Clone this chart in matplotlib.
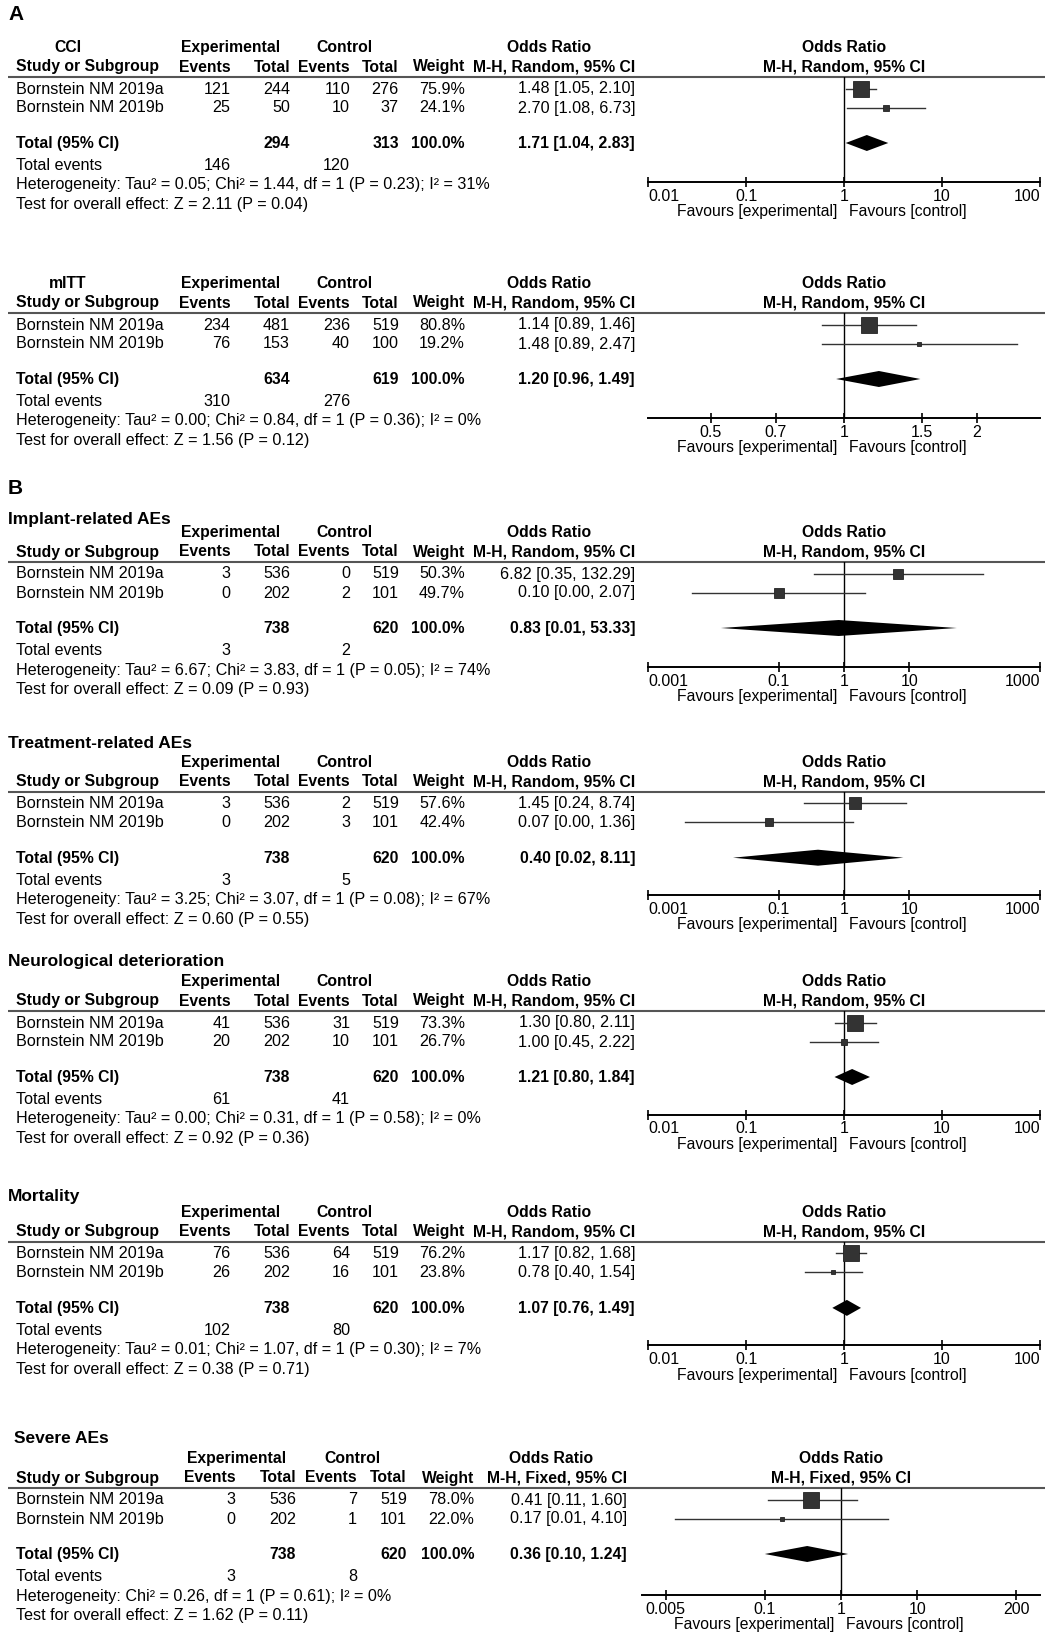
"""Forest plots: efficacy (A) and safety (B) outcomes, Bornstein NM 2019a/b."""
import matplotlib
matplotlib.use("Agg")
import matplotlib.pyplot as plt
from matplotlib.ticker import NullLocator

plt.rcParams.update({"font.family": "Liberation Sans", "font.size": 11})

# ---- data ----
studies = ["Bornstein NM 2019a", "Bornstein NM 2019b"]
outcomes = ["CCI", "mITT", "Implant-related AEs", "Treatment-related AEs",
            "Neurological deterioration", "Mortality", "Severe AEs"]
method = ["Random", "Random", "Random", "Random", "Random", "Random", "Fixed"]
exp_events = [[121, 25], [234, 76], [3, 0], [3, 0], [41, 20], [76, 26], [3, 0]]
exp_total = [[244, 50], [481, 153], [536, 202], [536, 202], [536, 202], [536, 202], [536, 202]]
ctl_events = [[110, 10], [236, 40], [0, 2], [2, 3], [31, 10], [64, 16], [7, 1]]
ctl_total = [[276, 37], [519, 100], [519, 101], [519, 101], [519, 101], [519, 101], [519, 101]]
weights = [[75.9, 24.1], [80.8, 19.2], [50.3, 49.7], [57.6, 42.4], [73.3, 26.7], [76.2, 23.8], [78.0, 22.0]]
or_est = [[1.48, 2.70], [1.14, 1.48], [6.82, 0.10], [1.45, 0.07], [1.30, 1.00], [1.17, 0.78], [0.41, 0.17]]
or_lo = [[1.05, 1.08], [0.89, 0.89], [0.35, 0.0047], [0.24, 0.0037], [0.80, 0.45], [0.82, 0.40], [0.11, 0.0067]]
or_hi = [[2.10, 6.73], [1.46, 2.47], [132.29, 2.07], [8.74, 1.36], [2.11, 2.22], [1.68, 1.54], [1.60, 4.10]]
pooled = [1.71, 1.20, 0.83, 0.40, 1.21, 1.07, 0.36]
pooled_lo = [1.04, 0.96, 0.013, 0.02, 0.80, 0.76, 0.10]
pooled_hi = [2.83, 1.49, 53.33, 8.11, 1.84, 1.49, 1.24]
heterogeneity = [
    "Heterogeneity: Tau² = 0.05; Chi² = 1.44, df = 1 (P = 0.23); I² = 31%",
    "Heterogeneity: Tau² = 0.00; Chi² = 0.84, df = 1 (P = 0.36); I² = 0%",
    "Heterogeneity: Tau² = 6.67; Chi² = 3.83, df = 1 (P = 0.05); I² = 74%",
    "Heterogeneity: Tau² = 3.25; Chi² = 3.07, df = 1 (P = 0.08); I² = 67%",
    "Heterogeneity: Tau² = 0.00; Chi² = 0.31, df = 1 (P = 0.58); I² = 0%",
    "Heterogeneity: Tau² = 0.01; Chi² = 1.07, df = 1 (P = 0.30); I² = 7%",
    "Heterogeneity: Chi² = 0.26, df = 1 (P = 0.61); I² = 0%",
]
overall = ["Z = 2.11 (P = 0.04)", "Z = 1.56 (P = 0.12)", "Z = 0.09 (P = 0.93)",
           "Z = 0.60 (P = 0.55)", "Z = 0.92 (P = 0.36)", "Z = 0.38 (P = 0.71)",
           "Z = 1.62 (P = 0.11)"]
xticks = [[0.01, 0.1, 1, 10, 100], [0.5, 0.7, 1, 1.5, 2], [0.001, 0.1, 1, 10, 1000],
          [0.001, 0.1, 1, 10, 1000], [0.01, 0.1, 1, 10, 100], [0.01, 0.1, 1, 10, 100],
          [0.005, 0.1, 1, 10, 200]]
xticklabels = [["0.01", "0.1", "1", "10", "100"], ["0.5", "0.7", "1", "1.5", "2"],
               ["0.001", "0.1", "1", "10", "1000"], ["0.001", "0.1", "1", "10", "1000"],
               ["0.01", "0.1", "1", "10", "100"], ["0.01", "0.1", "1", "10", "100"],
               ["0.005", "0.1", "1", "10", "200"]]
xlims = [(0.01, 100), (0.36, 2.78), (0.001, 1000), (0.001, 1000), (0.01, 100),
         (0.01, 100), (0.00245, 408)]

# ---- layout (pixels) ----
W, H = 1057, 1637
line_y = [77, 313, 562, 791.7, 1011, 1241.9, 1488]
title_dy = [-30, -30, -43, -49, -50, -46, -50]
axis_dy = [105, 105, 105, 103, 103.5, 103.4, 107]
COL_STD = dict(ev_e=230.6, tot_e=290, ev_c=350, tot_c=399, w=465, ci=635, exp=230.6, ctl=344, orc=549)
COL_SEV = dict(ev_e=235.5, tot_e=296, ev_c=357, tot_c=407, w=474, ci=627, exp=236.5, ctl=352, orc=551.5)
SQ, CI_C = "#333333", "#333333"
FS = 11.6      # regular table text
FS_B = 11.3    # bold headers

fig = plt.figure(figsize=(W / 100, H / 100), dpi=100)
bg = fig.add_axes([0, 0, 1, 1])
bg.set_xlim(0, W); bg.set_ylim(H, 0); bg.axis("off")


def txt(x, y, s, ha="left", bold=False, size=None):
    if size is None:
        size = FS_B if bold else FS
    bg.text(x, y + 5, s, ha=ha, va="baseline", fontsize=size,
            fontweight="bold" if bold else "normal", color="black")


bg.text(8, 20, "A", fontsize=15, fontweight="bold", va="baseline")
bg.text(8, 494, "B", fontsize=15, fontweight="bold", va="baseline")

for i, name in enumerate(outcomes):
    L = line_y[i]
    sev = i == 6
    c = COL_SEV if sev else COL_STD
    fx0, fx1 = (642, 1040) if sev else (648, 1040)
    fxc = (fx0 + fx1) / 2
    ci_head = f"M-H, {method[i]}, 95% CI"

    # titles / headers
    if i < 2:
        txt(67.7, L + title_dy[i], name, ha="center", bold=True)
    else:
        txt(13.6 if sev else 8, L + title_dy[i], name, bold=True, size=12.5)
    for x, s in [(c["exp"], "Experimental"), (c["ctl"], "Control"), (c["orc"], "Odds Ratio"), (fxc, "Odds Ratio")]:
        txt(x, L - 30, s, ha="center", bold=True)
    txt(16.3, L - 10.5, "Study or Subgroup", bold=True)
    for k, s in [("ev_e", "Events"), ("tot_e", "Total"), ("ev_c", "Events"), ("tot_c", "Total"),
                 ("w", "Weight"), ("ci", ci_head)]:
        txt(c[k], L - 10.5, s, ha="right", bold=True)
    txt(fxc, L - 10.5, ci_head, ha="center", bold=True)
    bg.plot([8, 1045], [L, L], color="#555555", lw=1.5, solid_capstyle="butt")

    # study rows
    for j, st in enumerate(studies):
        y = L + [11.5, 30.5][j]
        txt(16.3, y, st)
        txt(c["ev_e"], y, str(exp_events[i][j]), ha="right")
        txt(c["tot_e"], y, str(exp_total[i][j]), ha="right")
        txt(c["ev_c"], y, str(ctl_events[i][j]), ha="right")
        txt(c["tot_c"], y, str(ctl_total[i][j]), ha="right")
        txt(c["w"], y, f"{weights[i][j]:.1f}%", ha="right")
        txt(c["ci"], y, f"{or_est[i][j]:.2f} [{or_lo[i][j]:.2f}, {or_hi[i][j]:.2f}]", ha="right")

    # totals
    y = L + 66
    txt(16.3, y, "Total (95% CI)", bold=True)
    txt(c["tot_e"], y, str(sum(exp_total[i])), ha="right", bold=True)
    txt(c["tot_c"], y, str(sum(ctl_total[i])), ha="right", bold=True)
    txt(c["w"], y, "100.0%", ha="right", bold=True)
    txt(c["ci"], y, f"{pooled[i]:.2f} [{pooled_lo[i]:.2f}, {pooled_hi[i]:.2f}]", ha="right", bold=True)
    y = L + 88
    txt(16.3, y, "Total events")
    txt(c["ev_e"], y, str(sum(exp_events[i])), ha="right")
    txt(c["ev_c"], y, str(sum(ctl_events[i])), ha="right")
    txt(16.3, L + 107.5, heterogeneity[i])
    txt(16.3, L + 127, "Test for overall effect: " + overall[i])

    # forest panel
    ad = axis_dy[i]
    ax = fig.add_axes([fx0 / W, 1 - (L + ad) / H, (fx1 - fx0) / W, ad / H])
    ax.set_xscale("log")
    ax.set_xlim(*xlims[i]); ax.set_ylim(ad, 0)
    ax.patch.set_alpha(0)
    for s in ("top", "left", "right"):
        ax.spines[s].set_visible(False)
    ax.spines["bottom"].set_linewidth(1.4)
    ax.set_yticks([])
    ax.xaxis.set_minor_locator(NullLocator())
    ax.set_xticks(xticks[i])
    ax.set_xticklabels(xticklabels[i])
    ax.tick_params(axis="x", direction="inout", length=7, width=1.2, pad=1.5, labelsize=11.5)
    for lbl, v in zip(ax.get_xticklabels(), xticks[i]):
        if v <= xlims[i][0] * 1.001:
            lbl.set_ha("left")
        elif v >= xlims[i][1] * 0.999:
            lbl.set_ha("right")
    ax.axvline(1, color="black", lw=1.0)
    for j in range(2):
        y = [11.5, 30.5][j]
        ax.plot([or_lo[i][j], or_hi[i][j]], [y, y], color=CI_C, lw=1.0)
        ax.plot(or_est[i][j], y, marker="s", ms=0.21 * weights[i][j] * 0.72,
                color=SQ, mec="#222222", mew=0.6)
    y = 66
    ax.fill([pooled_lo[i], pooled[i], pooled_hi[i], pooled[i]], [y, y - 8, y, y + 8],
            color="black", lw=0)
    ax.annotate("Favours [experimental]", xy=(1, 0), xycoords=("data", "axes fraction"),
                xytext=(-4.5, -21.5), textcoords="offset points", ha="right", va="center", fontsize=11.3)
    ax.annotate("Favours [control]", xy=(1, 0), xycoords=("data", "axes fraction"),
                xytext=(3.8, -21.5), textcoords="offset points", ha="left", va="center", fontsize=11.3)

fig.savefig("out.png", dpi=100, facecolor="white")
